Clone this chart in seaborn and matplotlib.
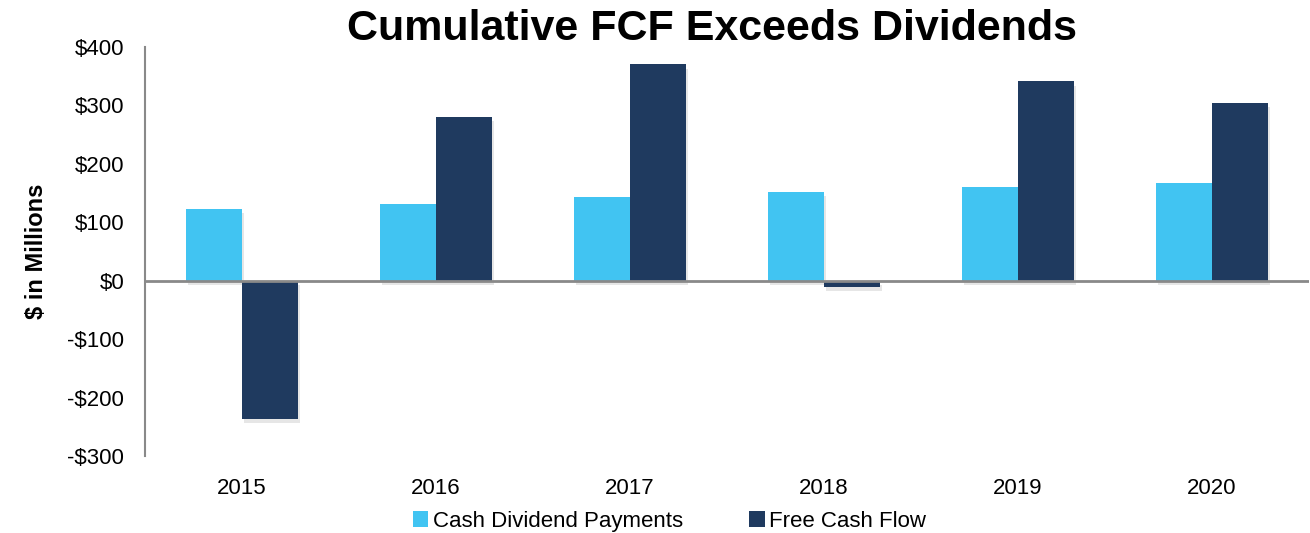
import matplotlib
matplotlib.use("Agg")
import matplotlib.pyplot as plt
import matplotlib.patheffects as pe
from matplotlib.ticker import FuncFormatter
from matplotlib.patches import Patch
import seaborn as sns
import pandas as pd

years = ["2015", "2016", "2017", "2018", "2019", "2020"]
dividends = [123, 132, 144, 152, 160, 168]
free_cash_flow = [-237, 280, 370, -11, 341, 304]
series_names = ["Cash Dividend Payments", "Free Cash Flow"]
colors = ["#41C4F2", "#1F3A5F"]

df = pd.DataFrame({
    "Year": years * 2,
    "Value": dividends + free_cash_flow,
    "Series": [series_names[0]] * len(years) + [series_names[1]] * len(years),
})

sns.set_style("white")
plt.rcParams["font.family"] = ["Liberation Sans", "DejaVu Sans"]
plt.rcParams["text.color"] = "black"
plt.rcParams["axes.labelcolor"] = "black"

fig = plt.figure(figsize=(13.1, 5.33), dpi=100)
ax = fig.add_axes([0.1107, 0.1445, 0.8885, 0.7674])

sns.barplot(data=df, x="Year", y="Value", hue="Series", palette=colors,
            width=0.578, ax=ax, legend=False, saturation=1)

# soft drop shadow under each bar
shadow = [pe.SimplePatchShadow(offset=(1.5, -3), shadow_rgbFace="#909090", alpha=0.22), pe.Normal()]
for bar in ax.patches:
    bar.set_edgecolor("none")
    bar.set_linewidth(0)
    bar.set_path_effects(shadow)

ax.set_xlim(-0.5, len(years) - 0.5)
ax.set_ylim(-300, 400)
ax.set_yticks(range(-300, 401, 100))
ax.yaxis.set_major_formatter(FuncFormatter(lambda v, _: f"-${abs(int(v))}" if v < 0 else f"${int(v)}"))

ax.axhline(0, color="#898989", lw=2, zorder=3)
for s in ["top", "right", "bottom"]:
    ax.spines[s].set_visible(False)
ax.spines["left"].set_color("#898989")
ax.spines["left"].set_linewidth(1.5)

ax.tick_params(axis="y", length=0, labelsize=16, pad=15, colors="black")
ax.tick_params(axis="x", length=0, labelsize=16, pad=16, colors="black")
ax.set_xlabel("")
ax.set_ylabel("$ in Millions", fontsize=17, fontweight="bold", labelpad=14)

fig.text(0.5437, 0.984, "Cumulative FCF Exceeds Dividends", ha="center", va="top",
         fontsize=31, fontweight="bold", color="black")

handles = [Patch(facecolor=c, edgecolor="none") for c in colors]
fig.legend(handles, series_names, loc="center", bbox_to_anchor=(0.511, 0.022),
           ncol=2, frameon=False, fontsize=16, handlelength=0.7, handleheight=0.7,
           handletextpad=0.2, columnspacing=3.0, borderaxespad=0)

fig.savefig("out.png", dpi=100)
